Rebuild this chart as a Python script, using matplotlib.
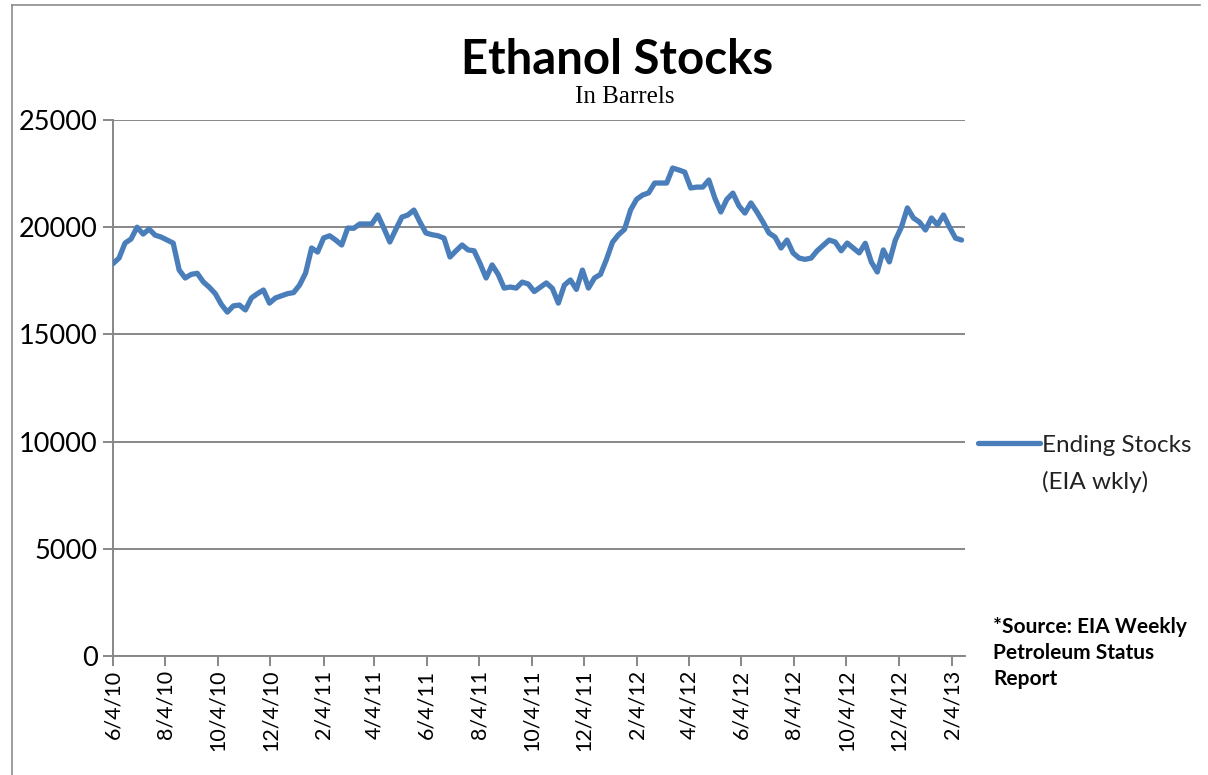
import matplotlib
matplotlib.use("Agg")
import matplotlib.pyplot as plt
import pandas as pd
from matplotlib.lines import Line2D

# ---- data ----
start_date = "2010-06-04"
stocks = [
    18300, 18560, 19260, 19450, 20000, 19680, 19910, 19630, 19540, 19400,
    19260, 18000, 17630, 17800, 17850, 17450, 17200, 16900, 16400, 16040,
    16330, 16370, 16140, 16700, 16900, 17070, 16460, 16700, 16800, 16900,
    16950, 17300, 17860, 19030, 18840, 19500, 19600, 19400, 19170, 19960,
    19950, 20150, 20150, 20150, 20570, 19960, 19310, 19900, 20470, 20570,
    20800, 20240, 19730, 19650, 19600, 19490, 18610, 18900, 19170, 18940,
    18900, 18300, 17630, 18240, 17800, 17160, 17210, 17160, 17440, 17350,
    17000, 17200, 17400, 17150, 16460, 17300, 17540, 17100, 18000, 17160,
    17630, 17800, 18500, 19300, 19650, 19900, 20800, 21300, 21500, 21600,
    22060, 22060, 22060, 22760, 22670, 22570, 21830, 21870, 21870, 22200,
    21360, 20710, 21300, 21590, 21000, 20660, 21130, 20710, 20240, 19730,
    19540, 19030, 19400, 18800, 18560, 18500, 18560, 18900, 19150, 19400,
    19310, 18900, 19260, 19030, 18800, 19250, 18380, 17910, 18940, 18380,
    19400, 20000, 20900, 20430, 20240, 19870, 20430, 20100, 20570, 20000,
    19490, 19400,
]
tick_labels = ["6/4/10", "8/4/10", "10/4/10", "12/4/10", "2/4/11", "4/4/11",
               "6/4/11", "8/4/11", "10/4/11", "12/4/11", "2/4/12", "4/4/12",
               "6/4/12", "8/4/12", "10/4/12", "12/4/12", "2/4/13"]
y_ticks = [0, 5000, 10000, 15000, 20000, 25000]
series_label = "Ending Stocks"
series_label_2 = "(EIA wkly)"
title = "Ethanol Stocks"
subtitle = "In Barrels"
source_note = "*Source: EIA Weekly\nPetroleum Status\nReport"

dates = pd.date_range(start_date, periods=len(stocks), freq="7D")
tick_dates = pd.to_datetime(tick_labels, format="%m/%d/%y")

W, H = 1208, 775
fig = plt.figure(figsize=(W / 100, H / 100), dpi=100)
fig.patch.set_facecolor("white")

# outer chart border (left and top)
fig.add_artist(Line2D([12 / W, 12 / W], [0, 1 - 5 / H], color="#8c8c8c", lw=1.2))
fig.add_artist(Line2D([12 / W, 1200 / W], [1 - 5 / H, 1 - 5 / H], color="#8c8c8c", lw=1.2))

ax = fig.add_axes([113 / W, 1 - 656 / H, (965 - 113) / W, (656 - 120) / H])
grid_c = "#878787"
line_c = "#4A7EBB"

ax.plot(dates, stocks, color=line_c, lw=3.8, solid_joinstyle="round",
        solid_capstyle="round", label=series_label, zorder=3)

ax.set_ylim(0, 25000)
ax.set_yticks(y_ticks)
ax.set_yticklabels([str(v) for v in y_ticks])
ax.set_xlim(dates[0], dates[-1] + pd.Timedelta(days=4))
ax.set_xticks(tick_dates)
ax.set_xticklabels(tick_labels, rotation=90, va="top", ha="center")

ax.grid(axis="y", color=grid_c, lw=1.4)
ax.set_axisbelow(True)
for s in ["top", "right"]:
    ax.spines[s].set_visible(False)
for s in ["left", "bottom"]:
    ax.spines[s].set_color(grid_c)
    ax.spines[s].set_linewidth(1.4)

ax.tick_params(axis="both", colors=grid_c, length=7, width=1.4, direction="out")
for lab in ax.get_yticklabels():
    lab.set_color("black")
    lab.set_fontfamily("Lato")
    lab.set_fontsize(19.5)
for lab in ax.get_xticklabels():
    lab.set_color("black")
    lab.set_fontfamily("Lato")
    lab.set_fontsize(15.5)
ax.tick_params(axis="y", pad=4)
ax.tick_params(axis="x", pad=3)

fig.text(617 / W, 1 - 60 / H, title, ha="center", va="center",
         fontsize=34, fontweight="bold", family="Lato")
fig.text(625 / W, 1 - 97 / H, subtitle, ha="center", va="center",
         fontsize=18, family="Liberation Serif")

leg = fig.legend(loc="center left", bbox_to_anchor=(978 / W, 1 - 445 / H),
                 frameon=False, handlelength=2.55, handletextpad=0.08,
                 prop={"family": "Lato", "size": 17.5}, borderpad=0,
                 borderaxespad=0)
for t in leg.get_texts():
    t.set_color("#222222")
fig.text(1042 / W, 1 - 482 / H, series_label_2, ha="left", va="center",
         fontsize=17.5, family="Lato", color="#222222")

fig.text(993 / W, 1 - 617 / H, source_note, ha="left", va="top",
         fontsize=15, fontweight="bold", family="Lato", linespacing=1.36)

fig.savefig("out.png", dpi=100)
